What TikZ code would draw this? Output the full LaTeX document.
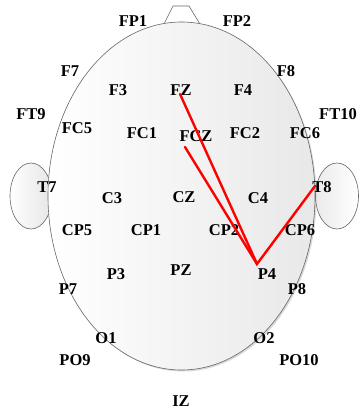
\documentclass[tikz,border=0pt]{standalone}
\usepackage{fontspec}
\setmainfont{Liberation Serif}
\usetikzlibrary{shadows}
\begin{document}
\begin{tikzpicture}[x=1pt,y=-1pt,
  lbl/.style={font=\fontsize{16.5}{17}\selectfont\bfseries, inner sep=0pt, anchor=center},
  outline/.style={draw=black!60, line width=0.6pt},
  link/.style={draw=red, line width=2.4pt, line join=miter, line cap=round}]
\useasboundingbox (0,0) rectangle (359,412);
% ears
\draw[outline, left color=white, right color=black!10] (31,196) ellipse [x radius=21pt, y radius=33pt];
\draw[outline, left color=black!8, right color=white] (337,196) ellipse [x radius=21.5pt, y radius=33pt];
% nose
\draw[outline, fill=white] (164,24) -- (173,6) -- (189,6) -- (200,24);
% head
\draw[outline, left color=white, right color=black!9,
  drop shadow={shadow xshift=1.5pt, shadow yshift=-1.5pt, opacity=0.3}]
  (181.5,196) ellipse [x radius=133.5pt, y radius=174pt];
% labels
\node[lbl] (FP1) at (133,21) {FP1};
\node[lbl] (FP2) at (237,21) {FP2};
\node[lbl] (F7) at (70,71) {F7};
\node[lbl] (F8) at (286,71) {F8};
\node[lbl] (F3) at (118,90) {F3};
\node[lbl] (FZ) at (181,90) {FZ};
\node[lbl] (F4) at (243,90) {F4};
\node[lbl] (FT9) at (31,114) {FT9};
\node[lbl] (FT10) at (338,114) {FT10};
\node[lbl] (FC5) at (77,128) {FC5};
\node[lbl] (FC1) at (142,133) {FC1};
\node[lbl] (FCZ) at (196,136) {FCZ};
\node[lbl] (FC2) at (245,133) {FC2};
\node[lbl] (FC6) at (305,133) {FC6};
\node[lbl] (T7) at (47,187) {T7};
\node[lbl] (T8) at (322,187) {T8};
\node[lbl] (C3) at (112,198) {C3};
\node[lbl] (CZ) at (184,197) {CZ};
\node[lbl] (C4) at (258,198) {C4};
\node[lbl] (CP5) at (77,230) {CP5};
\node[lbl] (CP1) at (146,230) {CP1};
\node[lbl] (CP2) at (224,230) {CP2};
\node[lbl] (CP6) at (300,230) {CP6};
\node[lbl] (P3) at (116,274) {P3};
\node[lbl] (PZ) at (181,270) {PZ};
\node[lbl] (P4) at (267,274) {P4};
\node[lbl] (P7) at (68,289) {P7};
\node[lbl] (P8) at (297,289) {P8};
\node[lbl] (O1) at (106,338) {O1};
\node[lbl] (O2) at (264,338) {O2};
\node[lbl] (PO9) at (75,360) {PO9};
\node[lbl] (PO10) at (299,360) {PO10};
\node[lbl] (IZ) at (181,401) {IZ};
% electrode points
\coordinate (eFZ) at (180,94);
\coordinate (eFCZ) at (185,147);
\coordinate (eT8) at (315,186);
\coordinate (eP4) at (257,264);
\draw[link] (eFZ) -- (eP4) -- (eT8);
\draw[link] (eFCZ) -- (eP4);
\end{tikzpicture}
\end{document}
